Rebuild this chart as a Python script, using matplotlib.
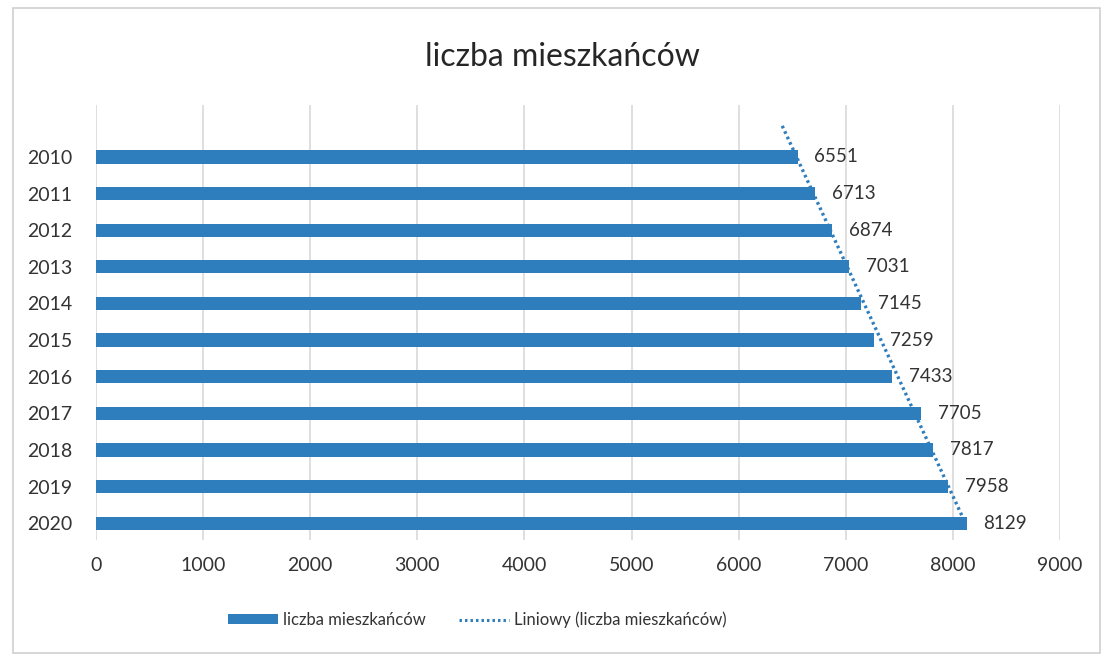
import numpy as np
import matplotlib
matplotlib.use("Agg")
import matplotlib.pyplot as plt
from matplotlib.patches import Patch, Rectangle
from matplotlib.lines import Line2D

plt.rcParams['font.family'] = ['Lato', 'DejaVu Sans']

years = ['2010', '2011', '2012', '2013', '2014', '2015', '2016', '2017', '2018', '2019', '2020']
residents = [6551, 6713, 6874, 7031, 7145, 7259, 7433, 7705, 7817, 7958, 8129]
x_ticks = [0, 1000, 2000, 3000, 4000, 5000, 6000, 7000, 8000, 9000]

title = 'liczba mieszkańców'
series_name = 'liczba mieszkańców'
trend_name = 'Liniowy (liczba mieszkańców)'

bar_color = '#2E7DBC'
text_color = '#333333'

fig = plt.figure(figsize=(11.04, 6.57), dpi=100)
ax = fig.add_axes([96/1104, 1-540/657, (1060-96)/1104, (540-105)/657])

idx = np.arange(len(years))
ax.barh(idx, residents, height=0.36, color=bar_color, zorder=3)

# linear trend line (least squares fit)
coef = np.polyfit(idx, residents, 1)
t = np.linspace(-0.85, 9.88, 50)
ax.plot(np.polyval(coef, t), t, color=bar_color, lw=2.4, ls=(0, (0.8, 1.0)), zorder=4)

for i, v in zip(idx, residents):
    ax.annotate(str(v), (v, i), xytext=(12, 0), textcoords='offset points',
                va='center', ha='left', fontsize=13.5, color=text_color)

ax.set_xlim(0, 9000)
ax.set_ylim(10.46, -1.42)
ax.set_xticks(x_ticks)
ax.set_xticklabels([str(x) for x in x_ticks])
ax.set_yticks(idx)
ax.set_yticklabels(years)
ax.tick_params(axis='both', length=0, labelsize=14, colors=text_color)
ax.tick_params(axis='y', pad=17)
ax.tick_params(axis='x', pad=12)
ax.grid(axis='x', color='#D9D9D9', lw=1.2, zorder=0)
for s in ax.spines.values():
    s.set_visible(False)

fig.text(562/1104, 1-57/657, title, ha='center', va='center', fontsize=23, color='#262626')

handles = [Patch(facecolor=bar_color, edgecolor='none'),
           Line2D([0], [0], color=bar_color, lw=2.2, ls=(0, (0.8, 1.0)))]
fig.legend(handles, [series_name, trend_name], loc='center', ncol=2,
           bbox_to_anchor=(477/1104, 1-620/657), frameon=False, fontsize=12,
           handlelength=3.0, handleheight=0.55, columnspacing=2.0, handletextpad=0.3,
           labelcolor=text_color)

fig.patches.append(Rectangle((13/1104, 1-653/657), (1100-13)/1104, (653-8)/657,
                             transform=fig.transFigure, fill=False,
                             edgecolor='#D0D0D0', lw=1.2))

fig.savefig('out.png', dpi=100, facecolor='white')
